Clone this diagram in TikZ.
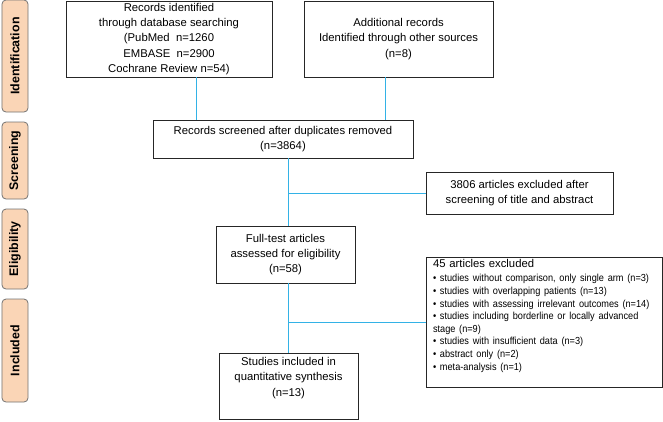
\documentclass[tikz,border=0pt]{standalone}
\usepackage{fontspec}
\setmainfont{Liberation Sans}
\newfontfamily\narrowsans[FakeStretch=0.9]{Liberation Sans}
\usetikzlibrary{calc}
\definecolor{peach}{RGB}{250,213,182}
\definecolor{linkblue}{RGB}{51,178,230}
\newcommand{\bulletfont}{\narrowsans\fontsize{10.2bp}{12.6bp}\selectfont}
\tikzset{
  box/.style={draw=black!85, line width=0.8bp, align=center, inner sep=2bp, outer sep=0pt, font=\fontsize{11.3bp}{15.3bp}\selectfont},
  phase/.style={draw=black!55, fill=peach, line width=0.8bp, rounded corners=4bp, rotate=90, minimum height=26bp, inner sep=0pt, font=\bfseries\fontsize{12.4bp}{14bp}\selectfont},
  link/.style={draw=linkblue, line width=0.9bp}
}

\begin{document}
\begin{tikzpicture}[x=1bp, y=-1bp]
    \useasboundingbox (0,0) rectangle (663,421);

    \node[phase, minimum width=112bp] (ident) at (15,56)    {Identification};
    \node[phase, minimum width=77bp]  (scr)   at (15,160.5) {Screening};
    \node[phase, minimum width=80bp]  (elig)  at (15,249)   {Eligibility};
    \node[phase, minimum width=103bp] (incl)  at (15,350.5) {Included};

    \node[box, minimum width=206bp, minimum height=76bp] (search) at (169,39)
        {Records identified\\through database searching\\(PubMed\ \ n=1260\\EMBASE\ \ n=2900\\Cochrane Review n=54)};
    \node[box, minimum width=189bp, minimum height=76bp] (other)  at (398.5,39)
        {Additional records\\Identified through other sources\\(n=8)};
    \node[box, minimum width=260bp, minimum height=38bp] (screen) at (283,139)
        {Records screened after duplicates removed\\(n=3864)};
    \node[box, minimum width=187bp, minimum height=42bp] (exclA)  at (519.5,193)
        {3806 articles excluded after\\screening of title and abstract};
    \node[box, minimum width=139bp, minimum height=57bp] (full)   at (285.5,254.5)
        {Full-test articles\\assessed for eligibility\\(n=58)};
    \node[box, anchor=north west, align=left, text width=222bp, inner xsep=7bp, minimum height=130bp] (exclB) at (426,257)
        {45 articles excluded\\[1.5bp]\bulletfont
         \textbullet\ studies without comparison, only single arm (n=3)\\
         \textbullet\ studies with overlapping patients (n=13)\\
         \textbullet\ studies with assessing irrelevant outcomes (n=14)\\
         \textbullet\ studies including borderline or locally advanced\\
         stage (n=9)\\
         \textbullet\ studies with insufficient data (n=3)\\
         \textbullet\ abstract only (n=2)\\
         \textbullet\ meta-analysis (n=1)\\[-1bp]\mbox{}};
    \node[box, minimum width=139bp, minimum height=66bp] (study)  at (288.5,386)
        {Studies included in\\quantitative synthesis\\(n=13)\\[3bp]\mbox{}};

    \coordinate (spine) at (288.7,0);

    \draw[link] ([xshift=27bp]search.south) -- ([xshift=27bp]search.south |- screen.north);
    \draw[link] ([xshift=-13.5bp]other.south) -- ([xshift=-13.5bp]other.south |- screen.north);

    \draw[link] (screen.south -| spine) -- (full.north -| spine);
    \draw[link] (exclA.west) -- (exclA.west -| spine);

    \draw[link] (full.south -| spine) -- (study.north -| spine);
    \draw[link] (exclB.west) -- (exclB.west -| spine);

\end{tikzpicture}
\end{document}
